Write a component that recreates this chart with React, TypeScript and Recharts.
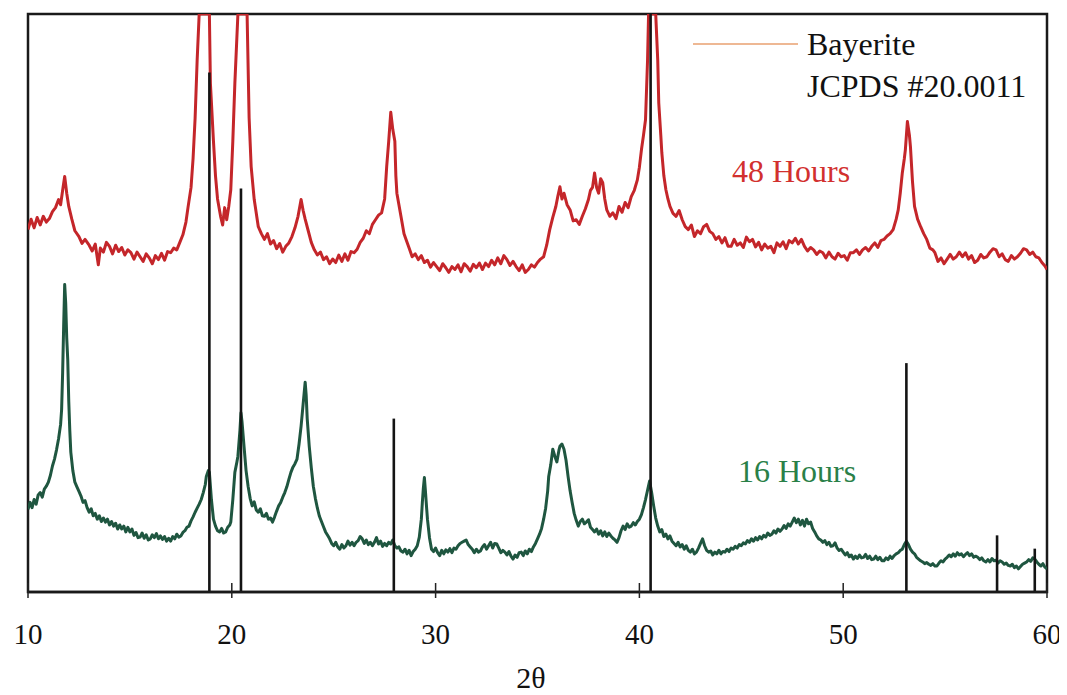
import React from 'react';
import { ComposedChart, Line, XAxis, YAxis, ReferenceLine, ReferenceArea } from 'recharts';

// 48 Hours trace: [2θ, intensity (arb.)]
const trace48h: [number, number][] = [
  [10.0,62.7],[10.15,64.5],[10.3,63],[10.45,64.8],[10.6,63.5],[10.75,65],[10.9,64],[11.05,64.6],[11.2,65.8],[11.35,66.5],
  [11.5,67.9],[11.6,67],[11.7,69.5],[11.8,71.9],[11.9,69],[12.0,66.7],[12.15,64.5],[12.3,62.5],[12.5,61.5],[12.65,60.3],
  [12.8,61],[13.0,60],[13.15,59],[13.3,60.2],[13.45,56.6],[13.55,59.5],[13.7,58.8],[13.85,60.5],[14.0,59.8],[14.15,58.5],
  [14.3,60],[14.45,58.9],[14.6,59.6],[14.75,58.3],[14.9,59.2],[15.05,58.7],[15.2,57.6],[15.35,58.8],[15.5,58],[15.65,57.2],
  [15.8,58.5],[15.95,57.8],[16.1,56.8],[16.25,58.2],[16.4,57.5],[16.55,58.6],[16.7,57.4],[16.85,58.9],[17.0,58.7],[17.15,59.5],
  [17.3,59.2],[17.45,60.5],[17.6,61.8],[17.75,64],[17.85,66.5],[18.0,70],[18.1,75],[18.2,82],[18.3,92],[18.4,100],
  [18.9,100],[18.95,88],[19.1,78],[19.2,72],[19.3,68],[19.45,65],[19.55,63.5],[19.65,66.5],[19.75,64.4],[19.85,66.7],
  [19.95,69.6],[20.05,78],[20.15,88],[20.3,100],[20.75,100],[20.85,82],[20.95,73.6],[21.1,67.9],[21.3,63.2],[21.45,62],
  [21.6,61],[21.75,62],[21.9,60.2],[22.05,60.8],[22.2,59.4],[22.35,60.3],[22.5,58.8],[22.65,59.8],[22.8,60.4],[22.95,61.5],
  [23.1,63],[23.25,65],[23.4,67.9],[23.5,66],[23.6,64.5],[23.75,62.5],[23.9,60.5],[24.05,59.2],[24.2,58.3],[24.35,58.8],
  [24.5,57.5],[24.65,58],[24.8,56.8],[24.95,57.6],[25.1,57],[25.25,58.3],[25.4,57.2],[25.55,58.5],[25.7,57.4],[25.85,58.9],
  [26.0,58.7],[26.15,59.3],[26.3,60.5],[26.45,61.2],[26.6,62.5],[26.75,62],[26.9,63.6],[27.05,64.4],[27.2,65.2],[27.35,65.6],
  [27.5,68],[27.6,73.6],[27.7,78],[27.8,83],[27.9,80],[28.0,78],[28.05,72],[28.1,69],[28.2,67],[28.3,65],
  [28.45,62],[28.55,61],[28.7,59.5],[28.85,58],[29.0,58.5],[29.15,57.5],[29.3,58.2],[29.45,57],[29.6,57.4],[29.75,56.2],
  [29.9,57],[30.05,56.3],[30.2,55.6],[30.35,56.8],[30.5,56.1],[30.65,55.3],[30.8,56.3],[30.95,55.8],[31.1,56.6],[31.25,55.4],
  [31.4,56.8],[31.55,56.3],[31.7,55.5],[31.85,56.7],[32.0,56.1],[32.15,56.9],[32.3,55.8],[32.45,56.9],[32.6,56.3],[32.75,57.4],
  [32.9,56.6],[33.05,57.8],[33.2,56.8],[33.35,58.2],[33.5,57.5],[33.65,56.5],[33.8,57.2],[33.95,56.3],[34.1,55.6],[34.25,56.6],
  [34.4,55.3],[34.55,55.8],[34.7,56.6],[34.85,56.2],[35.0,57],[35.15,57.6],[35.3,58],[35.45,60],[35.6,62.7],[35.75,64.8],
  [35.9,66.7],[36.0,68.5],[36.1,70.1],[36.2,68],[36.3,69],[36.45,67],[36.6,66.1],[36.75,64.2],[36.9,64.4],[37.05,63.6],
  [37.2,65],[37.35,66.3],[37.5,67.9],[37.6,69.5],[37.7,70],[37.8,72.5],[37.9,70],[38.0,69],[38.1,71.5],[38.2,70.8],
  [38.3,68],[38.4,66.1],[38.55,65],[38.7,65.6],[38.85,64.6],[39.0,66.7],[39.15,65.7],[39.3,67.4],[39.45,66.5],[39.6,68.4],
  [39.75,69.5],[39.9,71.3],[40.0,73.5],[40.1,76.5],[40.2,79],[40.3,81.7],[40.4,92],[40.45,100],[40.8,100],[40.9,92],
  [40.95,84.6],[41.05,79],[41.1,76],[41.2,72],[41.3,69.6],[41.4,68],[41.5,66.7],[41.65,65.5],[41.8,65],[41.95,66],
  [42.1,64.4],[42.25,63.2],[42.4,62.7],[42.55,63.5],[42.7,61.5],[42.85,62.5],[43.0,62],[43.15,63.2],[43.3,63.6],[43.45,62.4],
  [43.6,62],[43.75,61],[43.9,61.5],[44.05,60.4],[44.2,61.3],[44.35,59.8],[44.5,59.8],[44.65,61],[44.8,60],[44.95,60.4],
  [45.1,59.6],[45.25,61.4],[45.4,60.6],[45.55,61],[45.7,59.7],[45.85,60.5],[46.0,59.2],[46.15,60.2],[46.3,59.5],[46.45,59.8],
  [46.6,58.7],[46.75,60.4],[46.9,59.8],[47.05,60.6],[47.2,59.4],[47.35,60.8],[47.5,60.4],[47.65,61.2],[47.8,60.2],[47.95,61],
  [48.1,59.8],[48.25,59],[48.4,59.6],[48.55,59.2],[48.7,58.4],[48.85,59],[49.0,58.7],[49.15,57.8],[49.3,58.8],[49.45,58],
  [49.6,57.6],[49.75,58.6],[49.9,58],[50.05,58.2],[50.2,57.4],[50.35,58.7],[50.5,58.7],[50.65,59.2],[50.8,58.4],[50.95,59.2],
  [51.1,59.6],[51.25,59],[51.4,59.8],[51.55,60.4],[51.7,59.6],[51.85,60.8],[52.0,61],[52.15,61.6],[52.3,62],[52.45,62.7],
  [52.6,64.5],[52.7,66.1],[52.8,69],[52.9,72.5],[53.0,75],[53.05,76.5],[53.15,81.4],[53.25,79],[53.3,77],[53.4,71],
  [53.5,66.7],[53.65,64.5],[53.8,63.2],[53.95,62],[54.1,61],[54.25,59.5],[54.4,59.2],[54.5,58.7],[54.65,57.2],[54.8,57.8],
  [54.95,56.8],[55.1,57.6],[55.25,58.4],[55.4,57.6],[55.55,58],[55.7,58.8],[55.85,58],[56.0,58.7],[56.15,57.6],[56.3,58.2],
  [56.45,57],[56.6,57.4],[56.75,58.4],[56.9,57.8],[57.05,58],[57.2,58.8],[57.35,59.4],[57.5,59.2],[57.65,58],[57.8,58.5],
  [57.95,57.5],[58.1,57.2],[58.25,58.2],[58.4,57.6],[58.55,58],[58.7,58.6],[58.85,59.4],[59.0,59.2],[59.15,58.4],[59.3,58.8],
  [59.45,58],[59.6,57.8],[59.75,57],[59.9,56.4],[60.0,55.8],
];

// 16 Hours trace: [2θ, intensity (arb.)]
const trace16h: [number, number][] = [
  [10.0,14.3],[10.1,15.5],[10.2,14.6],[10.3,16],[10.4,15.2],[10.5,16.8],[10.6,17.2],[10.7,16.4],[10.8,17.8],[10.9,18.3],
  [11.0,19],[11.1,20.2],[11.2,21.8],[11.3,23],[11.4,24.6],[11.5,26.5],[11.6,29],[11.65,31.6],[11.7,38],[11.75,46],
  [11.8,53.2],[11.85,50],[11.9,44],[11.95,40.2],[12.0,33],[12.05,28],[12.1,24.2],[12.2,21],[12.3,19],[12.4,18.2],
  [12.5,17.4],[12.6,16.6],[12.7,15.5],[12.8,15.8],[12.9,14.6],[13.0,13.8],[13.1,14.4],[13.2,13.2],[13.3,13.6],[13.4,12.6],
  [13.5,13.2],[13.6,12.2],[13.7,12.8],[13.8,12.1],[13.9,12.6],[14.0,11.6],[14.1,12.2],[14.2,11.4],[14.3,11.9],[14.4,10.9],
  [14.5,11.6],[14.6,10.9],[14.7,11.4],[14.8,10.4],[14.9,11.2],[15.0,10.4],[15.1,10.9],[15.2,9.8],[15.3,10.3],[15.4,9.4],
  [15.5,9.5],[15.6,10.2],[15.7,9.3],[15.8,9.9],[15.9,9],[16.0,9.2],[16.1,9.9],[16.2,9.4],[16.3,10.1],[16.4,9.2],
  [16.5,9.7],[16.6,9.1],[16.7,9.6],[16.8,8.8],[16.9,9.3],[17.0,8.8],[17.1,9.6],[17.2,9.2],[17.3,10],[17.4,9.5],
  [17.5,9.7],[17.6,10.3],[17.7,10.6],[17.8,11.2],[17.9,11.4],[18.0,12.3],[18.1,13],[18.2,13.8],[18.3,14.5],[18.4,15.2],
  [18.5,16],[18.6,17.2],[18.7,18.6],[18.75,20],[18.85,21],[18.9,20.7],[19.0,16],[19.1,12.6],[19.2,11.4],[19.3,10.6],
  [19.4,10.4],[19.5,11],[19.6,10.2],[19.7,10.4],[19.8,11.2],[19.9,11.6],[19.95,12.1],[20.05,16],[20.15,20.7],[20.25,22.5],
  [20.3,23.5],[20.4,28],[20.45,31],[20.5,29.5],[20.6,25.2],[20.7,21],[20.8,18.3],[20.9,16.2],[21.0,14.9],[21.1,15.6],
  [21.2,14.2],[21.3,13.8],[21.4,14.4],[21.5,13.2],[21.6,13.1],[21.7,13.6],[21.8,12.6],[21.9,12.8],[22.0,12.1],[22.1,13],
  [22.2,14],[22.3,14.9],[22.4,15.5],[22.5,16.4],[22.6,17.2],[22.7,18.2],[22.8,19.5],[22.9,20.7],[23.0,21.6],[23.1,22.2],
  [23.2,23],[23.3,25.6],[23.4,28.7],[23.5,32.5],[23.6,36.3],[23.65,34],[23.7,30],[23.8,25.2],[23.9,21.5],[24.0,18.3],
  [24.1,16.2],[24.2,14.5],[24.3,13.1],[24.4,12.2],[24.5,11.3],[24.6,10.4],[24.7,9.8],[24.8,9.2],[24.9,8.4],[25.0,8],
  [25.1,8.6],[25.2,7.8],[25.3,7.4],[25.4,8.2],[25.5,7.6],[25.6,8],[25.7,8.8],[25.8,8.1],[25.9,8.6],[26.0,8],
  [26.1,8.6],[26.2,8.9],[26.3,9.6],[26.4,9.2],[26.5,8.4],[26.6,9],[26.7,8.2],[26.8,8.6],[26.9,8],[27.0,8.6],
  [27.1,9.4],[27.2,8.3],[27.3,8.8],[27.4,7.9],[27.5,8.4],[27.6,8],[27.7,8.6],[27.8,8.3],[27.9,9],[28.0,8],
  [28.1,7.6],[28.2,7.8],[28.3,7.1],[28.4,6.9],[28.5,7.4],[28.6,6.6],[28.7,7.2],[28.8,6.3],[28.9,7],[29.0,7.4],
  [29.1,8],[29.2,9.5],[29.3,12.6],[29.35,15.5],[29.4,18],[29.45,19.8],[29.5,17.5],[29.55,15],[29.6,12.6],[29.7,9.4],
  [29.8,7.4],[29.9,7],[30.0,7.6],[30.1,6.8],[30.2,6.3],[30.3,7.2],[30.4,6.6],[30.5,7.3],[30.6,6.9],[30.7,7.5],
  [30.8,6.8],[30.9,7.6],[31.0,7.4],[31.1,8],[31.2,8.4],[31.3,8.6],[31.4,8.8],[31.5,9],[31.6,8.2],[31.7,7.8],
  [31.8,7.4],[31.9,6.8],[32.0,7.4],[32.1,6.9],[32.2,7.1],[32.3,7.8],[32.4,8.2],[32.5,7.4],[32.6,8],[32.7,8.6],
  [32.8,7.6],[32.9,8.4],[33.0,8.3],[33.1,7.6],[33.2,6.8],[33.3,7.2],[33.4,6.9],[33.5,6.4],[33.6,7],[33.7,6.2],
  [33.8,5.7],[33.9,6.4],[34.0,6],[34.1,6.8],[34.2,6.9],[34.3,6.3],[34.4,7.1],[34.5,6.6],[34.6,7.4],[34.7,7],
  [34.8,7.8],[34.9,8.4],[35.0,9.2],[35.1,10],[35.2,11],[35.3,12.6],[35.4,14.5],[35.5,17.5],[35.55,20],[35.65,22],
  [35.75,24.7],[35.85,23.5],[35.95,22.5],[36.05,24.5],[36.1,25.2],[36.2,25.6],[36.3,24.7],[36.4,22.8],[36.5,20],[36.6,17.5],
  [36.7,15.5],[36.8,13.6],[36.9,12.4],[37.0,11.4],[37.1,12.2],[37.2,12.6],[37.3,11.8],[37.4,12.1],[37.5,12.5],[37.6,11.2],
  [37.7,10.8],[37.8,10.4],[37.9,10.9],[38.0,10],[38.1,10.6],[38.2,9.7],[38.3,10.4],[38.4,9.6],[38.5,10.2],[38.6,9.7],
  [38.7,9.3],[38.8,9],[38.9,8.6],[39.0,9.4],[39.1,10.6],[39.2,11.4],[39.3,10.8],[39.4,11.8],[39.5,11.2],[39.6,11.4],
  [39.7,12],[39.8,11.6],[39.9,12.2],[40.0,12.6],[40.1,13.4],[40.2,14.6],[40.3,16],[40.4,17.6],[40.5,19.2],[40.6,17.2],
  [40.7,14.9],[40.8,12.8],[40.9,11.4],[41.0,10.4],[41.1,10.8],[41.2,9.6],[41.3,10],[41.4,9.2],[41.5,9.7],[41.6,8.8],
  [41.7,8.4],[41.8,8],[41.9,8.6],[42.0,7.8],[42.1,8.2],[42.2,7.4],[42.3,8],[42.4,7.2],[42.5,6.9],[42.6,7.4],
  [42.7,6.6],[42.8,6.9],[42.9,7.6],[43.0,8.4],[43.1,9.2],[43.2,8],[43.3,7.2],[43.4,6.9],[43.5,7.1],[43.6,6.4],
  [43.7,6.9],[43.8,6.6],[43.9,7.2],[44.0,6.6],[44.1,7],[44.2,6.9],[44.3,7.4],[44.4,7],[44.5,7.6],[44.6,7.4],
  [44.7,7.9],[44.8,7.6],[44.9,8.2],[45.0,8],[45.1,8.5],[45.2,8.3],[45.3,8.9],[45.4,8.6],[45.5,9.2],[45.6,8.8],
  [45.7,9.4],[45.8,9],[45.9,9.6],[46.0,9.2],[46.1,9.8],[46.2,9.5],[46.3,10.2],[46.4,9.8],[46.5,10],[46.6,10.6],
  [46.7,10.2],[46.8,10.9],[46.9,10.5],[47.0,10.9],[47.1,11.5],[47.2,11],[47.3,11.8],[47.4,11.4],[47.5,12.1],[47.6,12.8],
  [47.7,12],[47.8,12.6],[47.9,11.6],[48.0,12.4],[48.1,11.4],[48.2,12.6],[48.3,11.8],[48.4,12.1],[48.5,11],[48.6,10.4],
  [48.7,9.7],[48.8,9.2],[48.9,9],[49.0,8.6],[49.1,8.9],[49.2,8.2],[49.3,8.6],[49.4,7.9],[49.5,8],[49.6,8.5],
  [49.7,7.6],[49.8,7.2],[49.9,7.4],[50.0,6.9],[50.1,6.4],[50.2,6.8],[50.3,6.1],[50.4,6.4],[50.5,5.7],[50.6,6.2],
  [50.7,5.8],[50.8,6.4],[50.9,5.9],[51.0,6],[51.1,6.5],[51.2,5.8],[51.3,6.2],[51.4,5.6],[51.5,5.7],[51.6,6.2],
  [51.7,5.6],[51.8,6],[51.9,5.4],[52.0,5.4],[52.1,5.9],[52.2,5.6],[52.3,6.2],[52.4,5.8],[52.5,6.3],[52.6,6.6],
  [52.7,6.8],[52.8,7.2],[52.9,7.4],[53.0,8.2],[53.1,8.8],[53.2,8.2],[53.3,7.4],[53.4,6.9],[53.5,6.6],[53.6,6],
  [53.7,5.7],[53.8,5.4],[53.9,5.2],[54.0,4.9],[54.1,5.1],[54.2,4.8],[54.3,4.6],[54.4,4.9],[54.5,4.5],[54.6,4.5],
  [54.7,5],[54.8,5.4],[54.9,5.2],[55.0,5.7],[55.1,6],[55.2,6.4],[55.3,6.1],[55.4,6.6],[55.5,6.2],[55.6,6.8],
  [55.7,6.4],[55.8,6.6],[55.9,6.1],[56.0,6.5],[56.1,6.8],[56.2,6.3],[56.3,6.6],[56.4,6],[56.5,6.2],[56.6,6],
  [56.7,5.6],[56.8,5.9],[56.9,5.4],[57.0,5.2],[57.1,5.6],[57.2,5.2],[57.3,5.8],[57.4,5.4],[57.5,5.5],[57.6,5],
  [57.7,5.4],[57.8,5.2],[57.9,4.8],[58.0,5],[58.1,4.6],[58.2,4.5],[58.3,4.8],[58.4,4.2],[58.5,4.5],[58.6,4],
  [58.7,4.4],[58.8,4.8],[58.9,5],[59.0,5.2],[59.1,5.6],[59.2,5.3],[59.3,5.9],[59.4,5.7],[59.5,5.2],[59.6,4.8],
  [59.7,4.5],[59.8,4.9],[59.9,4.3],[60.0,4],
];

// Bayerite JCPDS #20.0011 reference sticks
const stickTheta = [18.9, 20.45, 27.95, 40.55, 53.1, 57.55, 59.4];
const stickHeight = [89.9, 69.8, 30.0, 100, 39.6, 9.8, 7.5];

const xTicks = [10, 20, 30, 40, 50, 60];

const rows48 = trace48h.map(([x, y]) => ({ x, y }));
const rows16 = trace16h.map(([x, y]) => ({ x, y }));

const SERIF = 'Liberation Serif';
const W = 1059;
const H = 687;
const PLOT_BOTTOM = 584; // svg y of the x axis line (top 6 + plot height 578)

const SerifTick = (props: any) => {
  const { x, y, payload } = props;
  return (
    <g>
      <line x1={x} y1={PLOT_BOTTOM - 9} x2={x} y2={PLOT_BOTTOM + 6} stroke="#222" strokeWidth={1.5} />
      <text
        x={x}
        y={y}
        dy="0.71em"
        textAnchor="middle"
        style={{ fontFamily: SERIF, fontSize: 29, fill: '#111' }}
      >
        {payload.value}
      </text>
    </g>
  );
};

const txt = (size: number, fill: string): React.CSSProperties => ({
  fontFamily: SERIF,
  fontSize: size,
  fill,
});

export default function App() {
  return (
    <div style={{ position: 'relative', width: W, height: H }}>
      <ComposedChart
        width={W}
        height={H}
        margin={{ top: 6, right: 20, bottom: 0, left: 20 }}
      >
        <XAxis
          dataKey="x"
          type="number"
          domain={[10, 60]}
          ticks={xTicks}
          allowDataOverflow
          height={103}
          tickSize={6}
          tickMargin={25}
          axisLine={{ stroke: '#1a1a1a', strokeWidth: 2.5 }}
          tickLine={false}
          tick={<SerifTick />}
        />
        <YAxis type="number" domain={[0, 100]} hide allowDataOverflow />
        <ReferenceArea
          x1={10}
          x2={60}
          y1={0}
          y2={100}
          fill="none"
          stroke="#1a1a1a"
          strokeWidth={2.5}
          ifOverflow="visible"
        />
        <Line
          data={rows48}
          dataKey="y"
          type="linear"
          stroke="#c4262a"
          strokeWidth={3}
          dot={false}
          isAnimationActive={false}
          strokeLinejoin="round"
        />
        <Line
          data={rows16}
          dataKey="y"
          type="linear"
          stroke="#1f5640"
          strokeWidth={3}
          dot={false}
          isAnimationActive={false}
          strokeLinejoin="round"
        />
        {stickTheta.map((t, i) => (
          <ReferenceLine
            key={t}
            segment={[{ x: t, y: 0 }, { x: t, y: stickHeight[i] }]}
            stroke="#141414"
            strokeWidth={2.6}
            ifOverflow="visible"
          />
        ))}
      </ComposedChart>
      <svg
        width={W}
        height={H}
        style={{ position: 'absolute', left: 0, top: 0, pointerEvents: 'none' }}
      >
        <line x1={685} y1={36} x2={790} y2={36} stroke="#e8a070" strokeWidth={1.5} />
        <text x={799} y={47} style={txt(32, '#111')}>Bayerite</text>
        <text x={799} y={89} style={txt(32, '#111')}>JCPDS #20.0011</text>
        <text x={724} y={174} style={txt(32, '#d2302e')}>48 Hours</text>
        <text x={730} y={474} style={txt(32, '#2a8048')}>16 Hours</text>
        <text x={523} y={680} textAnchor="middle" style={txt(30, '#111')}>2θ</text>
      </svg>
    </div>
  );
}
